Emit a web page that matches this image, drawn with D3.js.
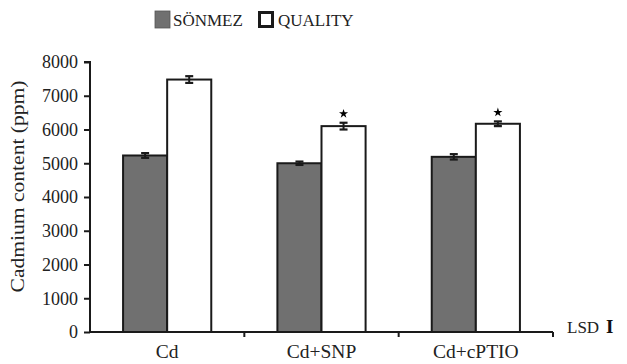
<!DOCTYPE html>
<html>
<head>
<meta charset="utf-8">
<script src="https://cdn.jsdelivr.net/npm/d3@7"></script>
<style>
  body { margin: 0; background: #fff; }
  svg text { font-family: 'Liberation Serif', 'Times New Roman', 'DejaVu Serif', serif; }
</style>
</head>
<body>
<svg id="chart" width="627" height="364"></svg>
<script>
const categories = ['Cd', 'Cd+SNP', 'Cd+cPTIO'];
const seriesNames = ['SÖNMEZ', 'QUALITY'];
const sonmez = [5230, 5000, 5190];
const sonmezErr = [70, 50, 80];
const quality = [7480, 6100, 6170];
const qualityErr = [100, 100, 70];
const significant = [false, true, true];
const yTicks = [0, 1000, 2000, 3000, 4000, 5000, 6000, 7000, 8000];

const width = 627, height = 364;
const margin = { top: 62, right: 74, bottom: 32, left: 90 };
const fills = ['#707070', '#ffffff'];
const ink = '#1a1a1a';

const svg = d3.select('#chart');

const x = d3.scaleBand()
    .domain(categories)
    .range([margin.left, width - margin.right]);

const xInner = d3.scaleBand()
    .domain(seriesNames)
    .range([0, x.bandwidth()])
    .paddingOuter(0.75);

const y = d3.scaleLinear()
    .domain([0, 8000])
    .range([height - margin.bottom, margin.top]);

const rows = categories.map((c, i) => ({
    cat: c,
    values: [
        { name: seriesNames[0], v: sonmez[i], e: sonmezErr[i], k: 0 },
        { name: seriesNames[1], v: quality[i], e: qualityErr[i], k: 1 }
    ],
    sig: significant[i]
}));

// bars
const groups = svg.selectAll('.grp')
    .data(rows)
    .enter().append('g')
    .attr('class', 'grp')
    .attr('transform', d => `translate(${x(d.cat)},0)`);

groups.selectAll('rect')
    .data(d => d.values)
    .enter().append('rect')
    .attr('x', d => xInner(d.name))
    .attr('y', d => y(d.v))
    .attr('width', xInner.bandwidth())
    .attr('height', d => y(0) - y(d.v))
    .style('fill', d => fills[d.k])
    .style('stroke', ink)
    .style('stroke-width', 2);

// error bars
const eb = groups.selectAll('.err')
    .data(d => d.values)
    .enter().append('g')
    .attr('class', 'err')
    .attr('transform', d => `translate(${xInner(d.name) + xInner.bandwidth() / 2},0)`);

eb.append('line')
    .attr('x1', 0).attr('x2', 0)
    .attr('y1', d => y(d.v + d.e))
    .attr('y2', d => y(d.v - d.e))
    .style('stroke', ink).style('stroke-width', 2);

eb.selectAll('.cap')
    .data(d => [d.v + d.e, d.v - d.e])
    .enter().append('line')
    .attr('x1', -4).attr('x2', 4)
    .attr('y1', d => y(d)).attr('y2', d => y(d))
    .style('stroke', ink).style('stroke-width', 2.2);

// significance stars
groups.filter(d => d.sig)
    .append('path')
    .attr('d', d3.symbol().type(d3.symbolStar).size(26))
    .attr('transform', d => `translate(${xInner(seriesNames[1]) + xInner.bandwidth() / 2},${y(d.values[1].v + d.values[1].e) - 9})`)
    .style('fill', '#000');

// y axis
const yAxis = svg.append('g')
    .attr('transform', `translate(${margin.left},0)`)
    .call(d3.axisLeft(y).tickValues(yTicks).tickSize(6).tickPadding(6).tickFormat(d3.format('d')));
yAxis.attr('font-family', null);
yAxis.selectAll('path, line').style('stroke', ink).style('stroke-width', 2);
yAxis.select('.domain').attr('d', `M-6,${y(8000)}H0V${y(0) + 1}`);
yAxis.selectAll('text')
    .style('font-size', '18px')
    .style('fill', '#222');

// x axis
const xAxis = svg.append('g')
    .attr('transform', `translate(0,${y(0)})`)
    .call(d3.axisBottom(x).tickSize(0).tickPadding(12));
xAxis.attr('font-family', null);
xAxis.select('.domain').attr('d', `M${margin.left},0H${width - margin.right}`)
    .style('stroke', ink).style('stroke-width', 2);
xAxis.selectAll('.boundary')
    .data(categories.slice(1).map(c => x(c)).concat([x(categories[2]) + x.bandwidth()]))
    .enter().append('line')
    .attr('class', 'boundary')
    .attr('x1', d => d).attr('x2', d => d)
    .attr('y1', 0).attr('y2', 5)
    .style('stroke', ink).style('stroke-width', 2);
xAxis.selectAll('text')
    .style('font-size', '19.5px')
    .style('fill', '#222');

// LSD marker
svg.append('text')
    .attr('x', width - margin.right + 14)
    .attr('y', y(0) + 1)
    .style('font-size', '17px')
    .style('fill', '#222')
    .text('LSD');
svg.append('text')
    .attr('x', width - margin.right + 53)
    .attr('y', y(0) + 1)
    .style('font-size', '19px')
    .style('font-weight', 'bold')
    .style('fill', '#111')
    .text('I');

// y title
svg.append('text')
    .attr('transform', 'translate(24,186.5) rotate(-90)')
    .attr('text-anchor', 'middle')
    .attr('textLength', 212)
    .attr('lengthAdjust', 'spacingAndGlyphs')
    .style('font-size', '18px')
    .style('fill', '#222')
    .text('Cadmium content (ppm)');

// legend
const legend = svg.append('g');
const legendItems = [
    { name: seriesNames[0], x: 155, k: 0 },
    { name: seriesNames[1], x: 258, k: 1 }
];
legendItems.forEach(it => {
    legend.append('rect')
        .attr('x', it.k === 0 ? it.x : it.x + 1.5)
        .attr('y', it.k === 0 ? 11 : 12.5)
        .attr('width', it.k === 0 ? 15 : 13)
        .attr('height', it.k === 0 ? 17 : 14)
        .style('fill', fills[it.k])
        .style('stroke', it.k === 0 ? '#555' : ink)
        .style('stroke-width', it.k === 0 ? 0.8 : 3);
    legend.append('text')
        .attr('x', it.x + (it.k === 0 ? 18 : 20))
        .attr('y', 26)
        .style('font-size', '17px')
        .style('fill', '#222')
        .text(it.name);
});
</script>
</body>
</html>
